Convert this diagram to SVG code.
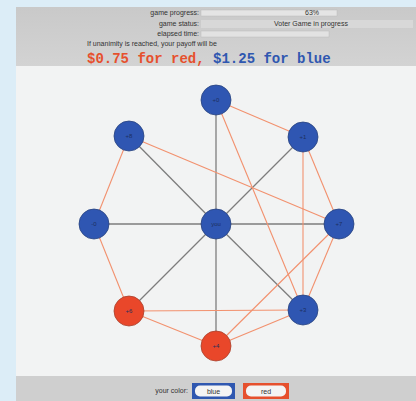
<svg xmlns="http://www.w3.org/2000/svg" width="416" height="401" viewBox="0 0 416 401">
<defs>
<linearGradient id="hdr" x1="0" y1="0" x2="0" y2="1">
<stop offset="0" stop-color="#c9c9c9"/><stop offset="1" stop-color="#d3d3d3"/>
</linearGradient>
<style>
.lbl{font-family:"Liberation Sans",Arial,sans-serif;font-size:7px;fill:#333}
.nl{font-family:"Liberation Sans",Arial,sans-serif;font-size:6px;fill:#1d2f5e;text-anchor:middle}
.g{stroke:#7d7d7d;stroke-width:1.3}
.o{stroke:#f2916e;stroke-width:1.1}
.b{fill:#2f56b2;stroke:#29447f;stroke-width:0.8}
.r{fill:#e9472a;stroke:#a8422e;stroke-width:0.8}
.pay{font-family:"Liberation Mono","Courier New",monospace;font-size:14px;font-weight:bold}
</style>
</defs>
<rect width="416" height="401" fill="#dcedf7"/>
<rect x="16" y="7" width="400" height="394" fill="#f2f3f3"/>
<rect x="16" y="7" width="400" height="59" fill="url(#hdr)"/>
<rect x="16" y="376" width="400" height="25" fill="#cfcfcf"/>
<g id="header">
<text class="lbl" x="199" y="15" text-anchor="end">game progress:</text>
<rect x="201" y="10" width="136" height="6" fill="#e4e4e4" stroke="#bdbdbd" stroke-width="0.5"/>
<text class="lbl" x="312" y="15" text-anchor="middle">63%</text>
<text class="lbl" x="199" y="26" text-anchor="end">game status:</text>
<rect x="201" y="20" width="212" height="8" fill="#d8d8d8"/>
<text class="lbl" x="311" y="26" text-anchor="middle">Voter Game in progress</text>
<text class="lbl" x="199" y="36" text-anchor="end">elapsed time:</text>
<rect x="201" y="31" width="128" height="6" fill="#e2e2e2" stroke="#bdbdbd" stroke-width="0.5"/>
<text class="lbl" x="87" y="46">If unanimity is reached, your payoff will be</text>
<text class="pay" x="87" y="63"><tspan fill="#e6502d">$0.75 for red,</tspan><tspan fill="#2f57b0"> $1.25 for blue</tspan></text>
</g>
<g id="connectors">
<line class="g" x1="216" y1="224" x2="216" y2="100"/>
<line class="g" x1="216" y1="224" x2="129" y2="136"/>
<line class="g" x1="216" y1="224" x2="303" y2="137"/>
<line class="g" x1="216" y1="224" x2="94" y2="224"/>
<line class="g" x1="216" y1="224" x2="339" y2="224"/>
<line class="g" x1="216" y1="224" x2="129" y2="311"/>
<line class="g" x1="216" y1="224" x2="303" y2="310"/>
<line class="g" x1="216" y1="224" x2="216" y2="346"/>
<line class="o" x1="216" y1="100" x2="303" y2="137"/>
<line class="o" x1="216" y1="100" x2="303" y2="310"/>
<line class="o" x1="129" y1="136" x2="339" y2="224"/>
<line class="o" x1="129" y1="136" x2="94" y2="224"/>
<line class="o" x1="303" y1="137" x2="303" y2="310"/>
<line class="o" x1="303" y1="137" x2="339" y2="224"/>
<line class="o" x1="339" y1="224" x2="303" y2="310"/>
<line class="o" x1="339" y1="224" x2="216" y2="346"/>
<line class="o" x1="94" y1="224" x2="129" y2="311"/>
<line class="o" x1="129" y1="311" x2="303" y2="310"/>
<line class="o" x1="129" y1="311" x2="216" y2="346"/>
<line class="o" x1="216" y1="346" x2="303" y2="310"/>
</g>
<g id="n-top"><circle class="b" cx="216" cy="100" r="15"/><text class="nl" x="216" y="102">+0</text></g>
<g id="n-upleft"><circle class="b" cx="129" cy="136" r="15"/><text class="nl" x="129" y="138">+8</text></g>
<g id="n-upright"><circle class="b" cx="303" cy="137" r="15"/><text class="nl" x="303" y="139">+1</text></g>
<g id="n-left"><circle class="b" cx="94" cy="224" r="15"/><text class="nl" x="94" y="226">-0</text></g>
<g id="n-center"><circle class="b" cx="216" cy="224" r="15"/><text class="nl" x="216" y="226">you</text></g>
<g id="n-right"><circle class="b" cx="339" cy="224" r="15"/><text class="nl" x="339" y="226">+7</text></g>
<g id="n-lowleft"><circle class="r" cx="129" cy="311" r="15"/><text class="nl" x="129" y="313">+6</text></g>
<g id="n-lowright"><circle class="b" cx="303" cy="310" r="15"/><text class="nl" x="303" y="312">+3</text></g>
<g id="n-bottom"><circle class="r" cx="216" cy="346" r="15"/><text class="nl" x="216" y="348">+4</text></g>
<g id="footer">
<text class="lbl" x="188" y="393" text-anchor="end">your color:</text>
<rect x="192" y="383" width="43" height="16" fill="#2f57b0"/>
<rect x="195" y="385.5" width="37" height="11" rx="5" fill="#f4f4f4"/>
<text class="lbl" x="213.5" y="393.5" text-anchor="middle">blue</text>
<rect x="243" y="383" width="46" height="16" fill="#e6502d"/>
<rect x="246" y="385.5" width="40" height="11" rx="5" fill="#f4f4f4"/>
<text class="lbl" x="266" y="393.5" text-anchor="middle">red</text>
</g>
</svg>
